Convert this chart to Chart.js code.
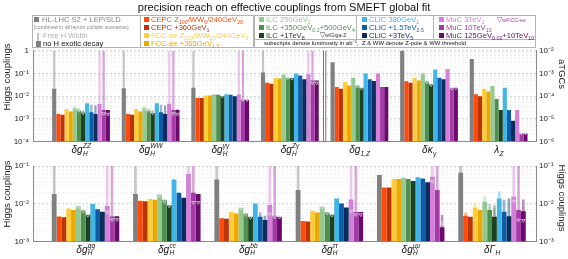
<!DOCTYPE html>
<html lang="en">

<head>
    <meta charset="UTF-8" />
    <title>precision reach on effective couplings from SMEFT global fit</title>
    <script src="https://cdn.jsdelivr.net/npm/chart.js"></script>
    <style>
        body {
            margin: 0;
            background: #fff;
            font-family: "Liberation Sans", Arial, Helvetica, sans-serif;
        }

        #wrap {
            position: relative;
            width: 568px;
            height: 259px;
            overflow: hidden;
        }

        #wrap canvas {
            position: absolute;
            left: 0;
            top: 0;
        }

        .title {
            position: absolute;
            left: 0;
            top: 1px;
            width: 568px;
            text-align: center;
            font-size: 11px;
            color: #111;
        }

        .box {
            position: absolute;
            box-sizing: border-box;
            border: 1px solid #b4b4b4;
        }

        .lt {
            position: absolute;
            white-space: nowrap;
            line-height: 1.2;
        }

        .lt sub {
            font-size: 0.7em;
            vertical-align: -0.3em;
            line-height: 0;
        }

        .lt sup {
            font-size: 0.7em;
            vertical-align: 0.5em;
            line-height: 0;
        }

        .sw {
            position: absolute;
        }

        .ytitle {
            position: absolute;
            width: 120px;
            height: 12px;
            line-height: 12px;
            text-align: center;
            font-size: 9.5px;
            color: #222;
            white-space: nowrap;
        }
    </style>
</head>

<body>
    <div id="wrap">
        <canvas id="cTop" width="568" height="259"></canvas>
        <canvas id="cBot" width="568" height="259"></canvas>
        <div class="title">precision reach on effective couplings from SMEFT global fit</div>
    </div>

    <script>
        const N = null;

        // groups: 0-3 Higgs (top, left axis), 4-6 aTGCs (top, right axis), 7-12 Higgs (bottom)
        const topLabels = [['δg', 'H', 'ZZ'], ['δg', 'H', 'WW'], ['δg', 'H', 'γγ'], ['δg', 'H', 'Zγ'],
                           ['δg', '1,Z', ''], ['δκ', 'γ', ''], ['λ', 'Z', '']];
        const bottomLabels = [['δg', 'H', 'gg'], ['δg', 'H', 'cc'], ['δg', 'H', 'bb'],
                              ['δg', 'H', 'ττ'], ['δg', 'H', 'μμ'], ['δΓ', 'H', '']];
        const topGroups = [0, 1, 2, 3, 4, 5, 6];
        const tgcGroups = [4, 5, 6];
        const bottomGroups = [7, 8, 9, 10, 11, 12];

        const scenarioNames = [
            'HL-LHC S2 + LEP/SLD',
            'CEPC Z<sub>100</sub>/WW<sub>6</sub>/240GeV<sub>20</sub>',
            'CEPC +360GeV<sub>1</sub>',
            'FCC-ee Z<sub>150</sub>/WW<sub>10</sub>/240GeV<sub>5</sub>',
            'FCC-ee +365GeV<sub>1.5</sub>',
            'ILC 250GeV<sub>2</sub>',
            'ILC +350GeV<sub>0.2</sub>+500GeV<sub>4</sub>',
            'ILC +1TeV<sub>8</sub>',
            'CLIC 380GeV<sub>1</sub>',
            'CLIC +1.5TeV<sub>2.5</sub>',
            'CLIC +3TeV<sub>5</sub>',
            'MuC 3TeV<sub>1</sub>',
            'MuC 10TeV<sub>10</sub>',
            'MuC 125GeV<sub>0.02</sub>+10TeV<sub>10</sub>'
        ];
        const colors = ['#808080', '#ff4a0a', '#b8340a', '#ffcc40', '#eaa800', '#93c993', '#4f8f4f',
                        '#1d4020', '#40b6e8', '#0f5ca6', '#0c2d5c', '#d580d8', '#a33aa6', '#690a6c'];

        //            ZZ      WW      γγ      Zγ     g1Z     κγ      λZ      gg      cc      bb      ττ      μμ     ΓH
        const hlLhc    = [0.021, 0.022, 0.023, 0.11, 0.0031, 0.011, 0.0043, 0.018, 0.018, 0.044, 0.023, 0.058, 0.066];
        const cepc240  = [0.0016, 0.0016, 0.0083, 0.039, 2.5e-4, 4.5e-4, 1.2e-4, 0.0046, 0.012, 0.0041, 0.0035, 0.027, 0.0048];
        const cepc360  = [0.0015, 0.0015, 0.0081, 0.035, 2.1e-4, 3.9e-4, 9.8e-5, 0.0044, 0.0116, 0.0040, 0.0034, 0.027, 0.0045];
        const fcc240   = [0.0027, 0.0027, 0.0105, 0.063, 4.2e-4, 6.5e-4, 2.1e-4, 0.0075, 0.0133, 0.0061, 0.0065, 0.045, 0.0078];
        const fcc365   = [0.0021, 0.0021, 0.0105, 0.059, 2.9e-4, 4.9e-4, 1.6e-4, 0.0068, 0.0127, 0.0055, 0.0059, 0.045, 0.0068];
        const ilc250   = [0.0030, 0.0030, 0.0117, 0.089, 6.5e-4, 9.8e-4, 2.8e-4, 0.0087, 0.018, 0.0078, 0.0083, 0.049, 0.0113];
        const ilc500   = [0.0023, 0.0023, 0.0113, 0.065, 2.9e-4, 4.5e-4, 7.4e-5, 0.0068, 0.0127, 0.0055, 0.0060, 0.045, 0.0068];
        const ilc1000  = [0.0019, 0.0018, 0.0101, 0.063, 2.3e-4, 3.3e-4, 2.4e-5, 0.0052, 0.0093, 0.0045, 0.0052, 0.040, 0.0045];
        const clic380  = [0.0048, 0.0048, 0.012, 0.098, 9.8e-4, 1.5e-3, 2.3e-4, 0.0098, 0.044, 0.0102, 0.0138, 0.050, 0.0138];
        const clic1500 = [0.0019, 0.0019, 0.0113, 0.080, 5.5e-4, 6.5e-4, 2.4e-5, 0.0072, 0.0195, 0.0045, 0.0102, 0.047, 0.0061];
        const clic3000 = [0.0016, 0.0016, 0.0098, 0.055, 4.6e-4, 5.5e-4, 8e-6, 0.0061, 0.0145, 0.0037, 0.0079, 0.037, 0.0047];
        const muc3     = [0.0045, 0.0046, 0.0117, 0.092, 9.8e-4, 1.55e-3, 2.4e-5, 0.0087, 0.061, 0.0093, 0.013, 0.052, 0.0153];
        const muc10    = [0.0024, 0.0024, 0.0068, 0.049, 2.5e-4, 2.3e-4, 2.2e-6, 0.0046, 0.0195, 0.0048, 0.0060, 0.023, 0.0068];
        const muc125   = [0.0024, 0.0025, 0.0068, 0.049, 2.5e-4, 2.3e-4, 2.2e-6, 0.0047, 0.018, 0.0045, 0.0060, 0.0024, 0.0063];

        // free H width (lighter bars), values above the axis run off the top
        const hlLhcFree    = [2, 2, 2, 2, N, N, N, 0.3, 0.3, 0.3, 0.3, N, 0.3];
        const cepc240Free  = [N, N, N, N, N, N, N, N, N, N, N, N, 0.0059];
        const fcc240Free   = [N, N, N, N, N, N, N, N, N, N, N, N, 0.011];
        const ilc250Free   = [0.0036, 0.0036, N, N, N, N, N, N, N, N, N, N, 0.0153];
        const ilc500Free   = [0.0028, 0.0028, N, N, N, N, N, N, N, N, N, N, 0.0098];
        const ilc1000Free  = [0.0023, 0.0023, N, N, N, N, N, N, N, N, N, N, 0.0093];
        const clic380Free  = [N, N, N, N, N, N, N, N, N, N, N, N, 0.021];
        const clic1500Free = [0.0041, 0.0041, N, N, N, N, N, N, N, 0.0059, N, N, 0.0128];
        const clic3000Free = [0.0038, 0.0038, N, N, N, N, N, N, N, 0.0048, N, N, 0.0138];
        const muc3Free     = [2, 2, 2, 2, N, N, N, 0.3, 0.3, 0.3, 0.3, 0.3, 0.3];
        const muc10Free    = [2, 2, 2, 2, N, N, N, 0.3, 0.3, 0.3, 0.3, 0.3, 0.3];
        const muc125Free   = [N, N, N, N, N, N, N, N, N, N, N, 0.005, 0.013];

        // triangle markers: ILC w/Giga-Z, MuC w/FCC-ee
        const ilc250GigaZ  = [0.0029, 0.0029, N, N, N, N, N, 0.0080, 0.016, 0.0072, 0.0078, N, 0.014];
        const ilc500GigaZ  = [0.0022, 0.0022, N, 0.060, 2.6e-4, 4.0e-4, N, 0.0062, 0.011, 0.0050, 0.0055, N, 0.0093];
        const ilc1000GigaZ = [0.0017, 0.0017, 0.0095, 0.058, 2.1e-4, 3.0e-4, N, 0.0048, 0.0085, 0.0042, 0.0048, N, 0.0085];
        const muc3FccEe    = [N, N, N, N, N, N, N, 0.0058, N, 0.0052, 0.0062, 0.038, 0.0115];
        const muc10FccEe   = [0.0016, 0.0016, 0.0066, 0.036, 3.0e-4, 2.1e-4, 2.2e-6, 0.0037, 0.0105, 0.0043, 0.0050, N, 0.0036];
        const muc125FccEe  = [0.0015, 0.0015, 0.0066, 0.036, 3.0e-4, 2.1e-4, 2.2e-6, 0.0037, 0.0105, 0.0043, 0.0050, 0.0030, 0.0035];

        const series = [hlLhc, cepc240, cepc360, fcc240, fcc365, ilc250, ilc500, ilc1000,
                        clic380, clic1500, clic3000, muc3, muc10, muc125];
        const freeWidth = [hlLhcFree, cepc240Free, N, fcc240Free, N, ilc250Free, ilc500Free, ilc1000Free,
                           clic380Free, clic1500Free, clic3000Free, muc3Free, muc10Free, muc125Free];
        const markers = [
            { scen: 5, vals: ilc250GigaZ }, { scen: 6, vals: ilc500GigaZ }, { scen: 7, vals: ilc1000GigaZ },
            { scen: 11, vals: muc3FccEe }, { scen: 12, vals: muc10FccEe }, { scen: 13, vals: muc125FccEe }
        ];

        const FONT = '"Liberation Sans", Arial, Helvetica, sans-serif';
        const SUP = { '-': '⁻', '0': '⁰', '1': '¹', '2': '²', '3': '³', '4': '⁴', '5': '⁵', '6': '⁶', '7': '⁷', '8': '⁸', '9': '⁹' };

        function powLabel(v) {
            const e = Math.round(Math.log10(v));
            if (e === 0) return '1';
            return '10' + String(e).split('').map(c => SUP[c]).join('');
        }

        // 1..9 x 10^n ticks, decades marked major
        function decadeTicks(scale) {
            const e0 = Math.round(Math.log10(scale.options.min));
            const e1 = Math.round(Math.log10(scale.options.max));
            const t = [];
            for (let e = e0; e <= e1; e++) {
                for (let k = 1; k <= 9; k++) {
                    if (e === e1 && k > 1) break;
                    t.push({ value: k * Math.pow(10, e), major: k === 1 });
                }
            }
            scale.ticks = t;
        }

        function yAxis(pos, min, max, showGrid) {
            return {
                type: 'logarithmic',
                position: pos,
                min: min,
                max: max,
                stacked: false,
                afterBuildTicks: decadeTicks,
                afterFit: s => { s.width = pos === 'left' ? 33 : 32; },
                ticks: {
                    autoSkip: false,
                    maxRotation: 0,
                    padding: pos === 'left' ? 4 : 3,
                    color: '#222',
                    font: { family: FONT, size: 8 },
                    callback: (v, i, t) => (t[i] && t[i].major) ? powLabel(v) : ''
                },
                grid: {
                    display: showGrid,
                    drawTicks: false,
                    lineWidth: 0.8,
                    color: c => (c.tick && c.tick.major) ? '#cdcdcd' : '#ececec'
                },
                border: { display: true, color: '#8a8a8a', width: 1, dash: [2, 2] }
            };
        }

        function makeDatasets(groups, rightGroups) {
            const out = [];
            series.forEach((vals, s) => {
                [[vals, 'main'], [freeWidth[s], 'free']].forEach(([src, kind]) => {
                    if (!src) return;
                    ['y', 'y2'].forEach(axis => {
                        const pts = [];
                        groups.forEach((g, xi) => {
                            if (rightGroups.includes(g) !== (axis === 'y2')) return;
                            if (src[g] === null) return;
                            pts.push({ x: xi, y: src[g], g: g });
                        });
                        if (!pts.length) return;
                        out.push({
                            data: pts,
                            yAxisID: axis,
                            stack: 's' + s,
                            order: kind === 'main' ? 0 : 1,
                            backgroundColor: kind === 'main' ? colors[s] : colors[s] + '70',
                            barPercentage: kind === 'main' ? 1 : 0.55,
                            categoryPercentage: 0.83,
                            borderWidth: 0,
                            _scen: s,
                            _kind: kind
                        });
                    });
                });
            });
            return out;
        }

        function groupLabelPlugin(labels, baseY) {
            return {
                id: 'groupLabels',
                afterDraw(chart) {
                    const ctx = chart.ctx;
                    const xs = chart.scales.x;
                    const big = 'italic 10px ' + FONT;
                    const small = 'italic 6.5px ' + FONT;
                    ctx.save();
                    ctx.fillStyle = '#111';
                    ctx.textBaseline = 'alphabetic';
                    labels.forEach(([main, sub, sup], i) => {
                        ctx.font = big;
                        const w0 = ctx.measureText(main).width;
                        ctx.font = small;
                        const w1 = Math.max(ctx.measureText(sub).width, ctx.measureText(sup).width);
                        const x0 = xs.getPixelForValue(i) - (w0 + w1) / 2;
                        ctx.font = big;
                        ctx.fillText(main, x0, baseY);
                        ctx.font = small;
                        ctx.fillText(sub, x0 + w0 + 0.3, baseY + 2.6);
                        ctx.fillText(sup, x0 + w0 + 0.3, baseY - 5);
                    });
                    ctx.restore();
                }
            };
        }

        const markerPlugin = {
            id: 'markers',
            afterDatasetsDraw(chart) {
                const ctx = chart.ctx;
                const a = chart.chartArea;
                ctx.save();
                ctx.beginPath();
                ctx.rect(a.left, a.top, a.right - a.left, a.bottom - a.top);
                ctx.clip();
                ctx.strokeStyle = '#e4e4e4';
                ctx.lineWidth = 0.7;
                markers.forEach(({ scen, vals }) => {
                    chart.data.datasets.forEach((ds, di) => {
                        if (ds._scen !== scen || ds._kind !== 'main') return;
                        const meta = chart.getDatasetMeta(di);
                        ds.data.forEach((p, j) => {
                            const v = vals[p.g];
                            if (v === null || !meta.data[j]) return;
                            const x = meta.data[j].x;
                            const y = chart.scales[ds.yAxisID].getPixelForValue(v);
                            ctx.beginPath();
                            ctx.moveTo(x - 1.7, y - 1.4);
                            ctx.lineTo(x + 1.7, y - 1.4);
                            ctx.lineTo(x, y + 1.4);
                            ctx.closePath();
                            ctx.stroke();
                        });
                    });
                });
                ctx.restore();
            }
        };

        // double line between Higgs couplings and aTGCs
        const separatorPlugin = {
            id: 'separator',
            afterDraw(chart) {
                const ctx = chart.ctx;
                const a = chart.chartArea;
                const x = chart.scales.x.getPixelForValue(3.5);
                ctx.save();
                ctx.strokeStyle = '#555';
                ctx.lineWidth = 0.8;
                [-1.1, 1.1].forEach(d => {
                    ctx.beginPath();
                    ctx.moveTo(x + d, a.top);
                    ctx.lineTo(x + d, a.bottom);
                    ctx.stroke();
                });
                ctx.restore();
            }
        };

        function xAxis(min, max) {
            return {
                type: 'linear',
                min: min,
                max: max,
                offset: false,
                afterFit: s => { s.height = 0; },
                ticks: { display: false, stepSize: 1, includeBounds: false },
                grid: { display: false, offset: false },
                border: { display: true, color: '#8a8a8a' }
            };
        }

        const common = {
            responsive: false,
            devicePixelRatio: 1,
            animation: false,
            events: [],
            plugins: { legend: { display: false }, tooltip: { enabled: false } }
        };

        new Chart(document.getElementById('cTop'), {
            type: 'bar',
            data: { datasets: makeDatasets(topGroups, tgcGroups) },
            options: Object.assign({}, common, {
                layout: { padding: { top: 50.8, bottom: 117.7, left: 0, right: 0 } },
                scales: {
                    x: xAxis(-0.69, 6.537),
                    y: yAxis('left', 1e-4, 1, true),
                    y2: yAxis('right', 1e-6, 1e-2, false)
                }
            }),
            plugins: [markerPlugin, separatorPlugin, groupLabelPlugin(topLabels, 153)]
        });

        new Chart(document.getElementById('cBot'), {
            type: 'bar',
            data: { datasets: makeDatasets(bottomGroups, []) },
            options: Object.assign({}, common, {
                layout: { padding: { top: 166, bottom: 17.5, left: 0, right: 0 } },
                scales: {
                    x: xAxis(-0.646, 5.541),
                    y: yAxis('left', 1e-3, 1e-1, true),
                    y2: yAxis('right', 1e-3, 1e-1, false)
                }
            }),
            plugins: [markerPlugin, groupLabelPlugin(bottomLabels, 252.5)]
        });

        // legend and axis titles as html
        const wrap = document.getElementById('wrap');

        function addBox(l, t, w, h) {
            const d = document.createElement('div');
            d.className = 'box';
            Object.assign(d.style, { left: l + 'px', top: t + 'px', width: w + 'px', height: h + 'px' });
            wrap.appendChild(d);
        }

        function addText(html, x, cy, size, color) {
            const d = document.createElement('div');
            d.className = 'lt';
            d.innerHTML = html;
            Object.assign(d.style, { left: x + 'px', top: (cy - size * 0.6) + 'px', fontSize: size + 'px', color: color });
            wrap.appendChild(d);
        }

        function addSwatch(x, y, w, h, color) {
            const d = document.createElement('div');
            d.className = 'sw';
            Object.assign(d.style, { left: x + 'px', top: y + 'px', width: w + 'px', height: h + 'px', background: color });
            wrap.appendChild(d);
        }

        function addYTitle(text, cx, cy, rot) {
            const d = document.createElement('div');
            d.className = 'ytitle';
            d.textContent = text;
            Object.assign(d.style, { left: (cx - 60) + 'px', top: (cy - 6) + 'px', transform: 'rotate(' + rot + 'deg)' });
            wrap.appendChild(d);
        }

        const rowY = [20, 27.6, 35.4, 43.1];
        const legendBoxes = [
            { left: 140, w: 114, h: 33, items: [1, 2, 3, 4], sw: 144, tx: 151 },
            { left: 254, w: 103, h: 25, items: [5, 6, 7], sw: 259, tx: 266 },
            { left: 356, w: 78, h: 25, items: [8, 9, 10], sw: 362, tx: 369 },
            { left: 433, w: 103, h: 25, items: [11, 12, 13], sw: 439, tx: 446 }
        ];

        addBox(32, 15, 109, 33);
        addBox(254, 15, 282, 33);
        legendBoxes.forEach(b => {
            addBox(b.left, 15, b.w, b.h);
            b.items.forEach((s, r) => {
                addSwatch(b.sw, rowY[r] - 2.6, 5, 5, colors[s]);
                addText(scenarioNames[s], b.tx, rowY[r], 7.6, colors[s]);
            });
        });

        addSwatch(33.5, 17.4, 5, 5, colors[0]);
        addText(scenarioNames[0], 42, 20, 7.6, '#858585');
        addText('(combined in all lepton collider scenarios)', 33.5, 27.4, 5.2, '#8a8a8a');
        addSwatch(37.3, 33, 2.2, 8.5, colors[0] + '70');
        addText('Free H Width', 43, 35.7, 7.6, '#b0b0b0');
        addSwatch(36, 40.7, 4.8, 6, colors[0]);
        addText('no H exotic decay', 43, 43.5, 7.6, '#111');
        addText('▽<span style="font-size:5.3px">w/Giga-Z</span>', 320, 35.4, 7, '#333');
        addText('▽<span style="font-size:5.3px">w/FCC-ee</span>', 497, 20, 7, colors[12]);
        addText('subscripts denote luminosity in ab<sup>−1</sup>,&nbsp; Z &amp; WW denote Z-pole &amp; WW threshold', 264, 44, 5.9, '#111');

        addYTitle('Higgs couplings', 6.5, 77, -90);
        addYTitle('Higgs couplings', 6.5, 193.5, -90);
        addYTitle('aTGCs', 561.5, 73.5, 90);
        addYTitle('Higgs couplings', 561.5, 198, 90);
    </script>
</body>

</html>
